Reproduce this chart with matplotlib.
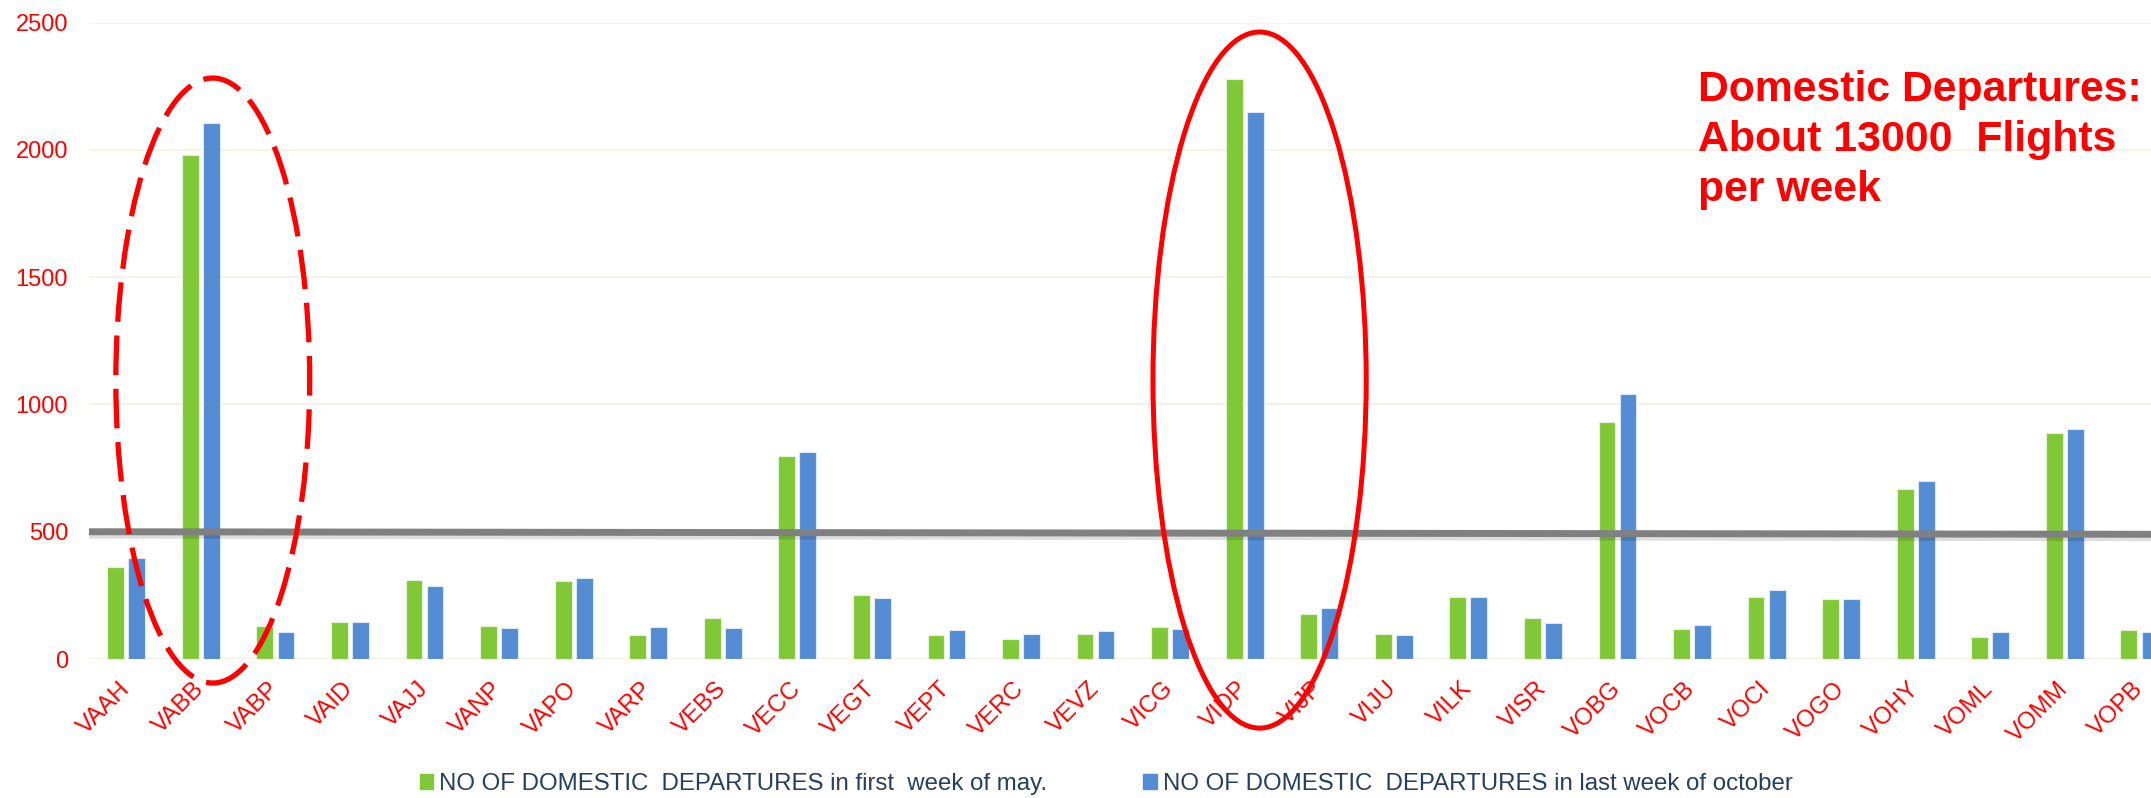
import matplotlib
matplotlib.use("Agg")
import matplotlib.pyplot as plt
import matplotlib.patheffects as pe
from matplotlib.patches import Ellipse, Patch
import numpy as np

airports = ["VAAH", "VABB", "VABP", "VAID", "VAJJ", "VANP", "VAPO", "VARP",
            "VEBS", "VECC", "VEGT", "VEPT", "VERC", "VEVZ", "VICG", "VIDP",
            "VIJP", "VIJU", "VILK", "VISR", "VOBG", "VOCB", "VOCI", "VOGO",
            "VOHY", "VOML", "VOMM", "VOPB"]
may_first_week = [363, 1979, 128, 145, 309, 128, 308, 93, 162, 799, 250, 96, 79, 98,
                  124, 2279, 175, 98, 244, 162, 930, 118, 245, 236, 668, 86, 889, 113]
october_last_week = [398, 2107, 106, 144, 286, 123, 318, 124, 122, 815, 240, 114, 98, 109,
                     119, 2148, 202, 96, 245, 140, 1042, 134, 270, 235, 701, 105, 904, 107]
series_labels = ["NO OF DOMESTIC  DEPARTURES in first  week of may.",
                 "NO OF DOMESTIC  DEPARTURES in last week of october"]
y_ticks = [0, 500, 1000, 1500, 2000, 2500]
ref_level = [500, 490]   # grey threshold bar, left end / right end
note = "Domestic Departures:\nAbout 13000  Flights\nper week"

GREEN = "#80C837"
BLUE = "#538CD2"

plt.rcParams["font.family"] = ["Liberation Sans", "DejaVu Sans"]

W, H = 2151, 798
fig = plt.figure(figsize=(W / 100, H / 100), dpi=100)
ax = fig.add_axes([89 / W, 139 / H, 1 - 89 / W, (659 - 22.7) / H])

x = np.arange(len(airports))
bw = 0.225
ax.bar(x - 0.141, may_first_week, bw, color=GREEN, edgecolor="#E6F4D6",
       linewidth=0.8, zorder=2)
ax.bar(x + 0.141, october_last_week, bw, color=BLUE, edgecolor="#DDE8F6",
       linewidth=0.8, zorder=2)

ax.set_xlim(-0.5, -0.5 + (W - 89) / 74.56)
ax.set_ylim(0, 2500)
ax.set_yticks(y_ticks)
ax.yaxis.grid(True, color="#F3F3E2", linewidth=1.3)
ax.set_axisbelow(True)
for s in ax.spines.values():
    s.set_visible(False)

ax.tick_params(axis="y", length=0, pad=15, labelsize=17, labelcolor="red")
ax.tick_params(axis="x", length=0, pad=19, labelsize=17.3, labelcolor="red")
ax.set_xticks(x)
ax.set_xticklabels(airports, rotation=45, ha="right", va="center",
                   rotation_mode="anchor")

# grey 500-flights bar with a soft drop shadow
ax.plot([0, 1], ref_level, transform=ax.get_yaxis_transform(), color="#808080",
        lw=5, solid_capstyle="butt", zorder=3, clip_on=False,
        path_effects=[pe.SimpleLineShadow(offset=(0, -2.5), shadow_color="black",
                                          alpha=0.13),
                      pe.Normal()])

# circle the two big hubs
i_bom = airports.index("VABB")
i_del = airports.index("VIDP")
ax.add_patch(Ellipse((i_bom + 0.16, 1094), 2.60, 2377, fill=False, ec="red",
                     lw=3.8, ls=(0, (7.5, 2.6)), clip_on=False, zorder=4))
ax.add_patch(Ellipse((i_del + 0.2, 1096), 2.86, 2735, fill=False, ec="red",
                     lw=3.6, clip_on=False, zorder=4))

fig.text(1697.7 / W, 1 - 70 / H, note, color="red", fontsize=30.8,
         fontweight="bold", ha="left", va="top", linespacing=1.33)

handles = [Patch(color=GREEN), Patch(color=BLUE)]
fig.legend(handles, series_labels, loc="center left",
           bbox_to_anchor=(420 / W, 14 / H), ncol=2, frameon=False,
           fontsize=17.3, handlelength=0.55, handleheight=0.55,
           handletextpad=0.25, columnspacing=4.0, borderpad=0,
           borderaxespad=0, labelcolor="#243F60")

fig.savefig("out.png", dpi=100)
